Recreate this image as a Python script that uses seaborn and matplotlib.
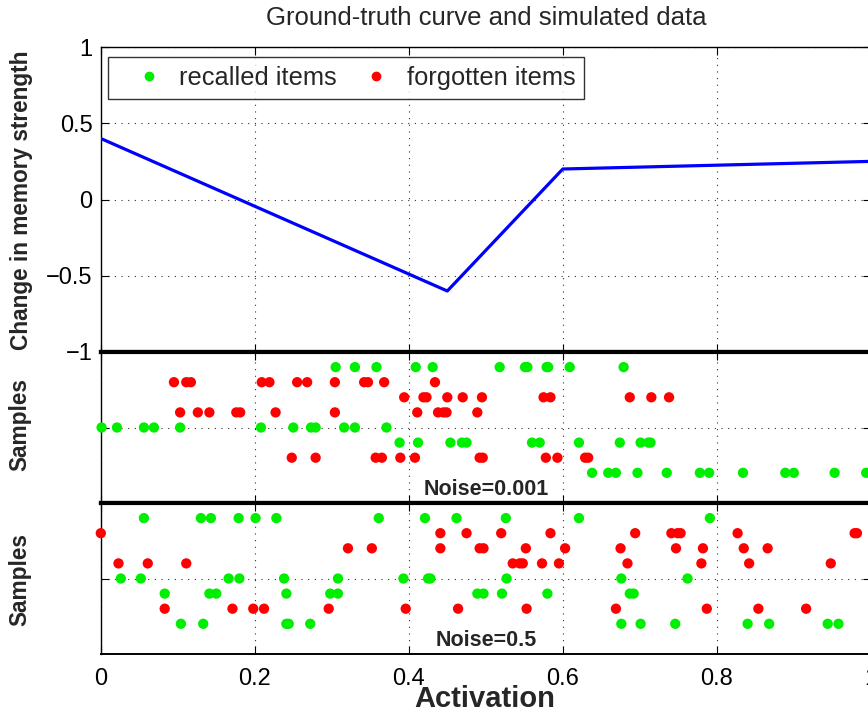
import matplotlib
matplotlib.use("Agg")
import matplotlib.pyplot as plt
from matplotlib.lines import Line2D
import pandas as pd
import seaborn as sns

sns.set_theme(style="white")
plt.rcParams['font.family'] = ['Liberation Sans', 'DejaVu Sans']

# Ground-truth curve: piecewise linear change in memory strength
curve_x = [0.0, 0.45, 0.6, 1.0]
curve_y = [0.4, -0.6, 0.2, 0.25]

# Simulated samples with noise = 0.001 (activation of each item, by row level)
low_recalled_r8 = [0.305, 0.330, 0.358, 0.409, 0.431, 0.518, 0.551, 0.554, 0.579, 0.581, 0.609, 0.679]
low_recalled_r4 = [0.001, 0.021, 0.056, 0.069, 0.103, 0.208, 0.250, 0.273, 0.279, 0.316, 0.330, 0.371]
low_recalled_r3 = [0.388, 0.412, 0.454, 0.469, 0.475, 0.560, 0.570, 0.621, 0.674, 0.701, 0.711, 0.714]
low_recalled_r1 = [0.638, 0.659, 0.669, 0.697, 0.735, 0.778, 0.790, 0.834, 0.889, 0.900, 0.953, 0.994]
low_forgotten_r7 = [0.095, 0.111, 0.117, 0.209, 0.219, 0.255, 0.268, 0.304, 0.342, 0.347, 0.368, 0.434]
low_forgotten_r6 = [0.394, 0.419, 0.423, 0.450, 0.470, 0.495, 0.575, 0.584, 0.687, 0.715, 0.738]
low_forgotten_r5 = [0.103, 0.126, 0.141, 0.176, 0.181, 0.227, 0.304, 0.411, 0.438, 0.445, 0.449, 0.489]
low_forgotten_r2 = [0.248, 0.279, 0.357, 0.365, 0.389, 0.408, 0.492, 0.496, 0.578, 0.593, 0.629, 0.633]

# Simulated samples with noise = 0.5
high_recalled_r8 = [0.056, 0.130, 0.143, 0.179, 0.201, 0.228, 0.361, 0.421, 0.462, 0.526, 0.621, 0.791]
high_recalled_r4 = [0.026, 0.052, 0.166, 0.180, 0.238, 0.308, 0.393, 0.425, 0.428, 0.527, 0.676, 0.762]
high_recalled_r3 = [0.083, 0.141, 0.150, 0.241, 0.298, 0.308, 0.489, 0.497, 0.521, 0.580, 0.687, 0.692]
high_recalled_r1 = [0.104, 0.133, 0.241, 0.244, 0.272, 0.676, 0.701, 0.746, 0.840, 0.868, 0.944, 0.958]
high_forgotten_r7 = [0.000, 0.441, 0.475, 0.520, 0.584, 0.694, 0.741, 0.749, 0.753, 0.827, 0.979, 0.982]
high_forgotten_r6 = [0.321, 0.352, 0.441, 0.492, 0.497, 0.552, 0.603, 0.675, 0.747, 0.782, 0.835, 0.866]
high_forgotten_r5 = [0.023, 0.061, 0.111, 0.535, 0.544, 0.548, 0.573, 0.595, 0.684, 0.780, 0.842, 0.948]
high_forgotten_r2 = [0.083, 0.171, 0.198, 0.212, 0.296, 0.396, 0.464, 0.553, 0.669, 0.787, 0.854, 0.916]

x_ticks = [0, 0.2, 0.4, 0.6, 0.8, 1]
x_tick_labels = ["0", "0.2", "0.4", "0.6", "0.8", "1"]
y_ticks = [-1, -0.5, 0, 0.5, 1]
y_tick_labels = ["\u22121", "\u22120.5", "0", "0.5", "1"]

GREEN = "#00ee00"
RED = "#ff0000"
palette = {"recalled items": GREEN, "forgotten items": RED}


def samples_frame(rows):
    recs = []
    for level, outcome, xs in rows:
        for v in xs:
            recs.append({"activation": v, "level": level, "outcome": outcome})
    return pd.DataFrame(recs)


low_df = samples_frame([
    (8, "recalled items", low_recalled_r8), (4, "recalled items", low_recalled_r4),
    (3, "recalled items", low_recalled_r3), (1, "recalled items", low_recalled_r1),
    (7, "forgotten items", low_forgotten_r7), (6, "forgotten items", low_forgotten_r6),
    (5, "forgotten items", low_forgotten_r5), (2, "forgotten items", low_forgotten_r2),
])
high_df = samples_frame([
    (8, "recalled items", high_recalled_r8), (4, "recalled items", high_recalled_r4),
    (3, "recalled items", high_recalled_r3), (1, "recalled items", high_recalled_r1),
    (7, "forgotten items", high_forgotten_r7), (6, "forgotten items", high_forgotten_r6),
    (5, "forgotten items", high_forgotten_r5), (2, "forgotten items", high_forgotten_r2),
])
curve_df = pd.DataFrame({"activation": curve_x, "change": curve_y})

W, H = 868, 719
fig = plt.figure(figsize=(W / 100, H / 100), dpi=100)
left = 100.8 / W
width = 770 / W


def fy(px):
    return 1 - px / H


ax_top = fig.add_axes([left, fy(352), width, (352 - 47) / H])
ax_mid = fig.add_axes([left, fy(503), width, (503 - 352) / H])
ax_bot = fig.add_axes([left, fy(654), width, (654 - 503) / H])

grid_kw = dict(color="#333333", linestyle=(0, (1, 5)), linewidth=0.8)
TICK_FS = 17

# --- top panel: ground-truth curve ---
sns.lineplot(data=curve_df, x="activation", y="change", ax=ax_top,
             color="#0000ff", linewidth=2.3, zorder=3)
ax_top.set_xlim(0, 1)
ax_top.set_ylim(-1, 1)
ax_top.set_xticks(x_ticks)
ax_top.set_yticks(y_ticks)
ax_top.set_yticklabels(y_tick_labels, fontsize=TICK_FS)
ax_top.tick_params(axis="x", labelbottom=False, top=True, bottom=True)
ax_top.grid(True, **grid_kw)
ax_top.set_xlabel("")
ax_top.set_ylabel("")

handles = [
    Line2D([], [], linestyle="none", marker="o", markersize=6, color=GREEN, label="recalled items"),
    Line2D([], [], linestyle="none", marker="o", markersize=6, color=RED, label="forgotten items"),
]
leg = ax_top.legend(handles=handles, loc="upper left", bbox_to_anchor=(0.0094, 0.967),
                    borderaxespad=0, ncol=2, fontsize=18.3, frameon=True, fancybox=False,
                    edgecolor="black", handlelength=2.5, handletextpad=-0.05,
                    columnspacing=0.3, borderpad=0.35)
leg.get_frame().set_linewidth(1.0)

# --- sample panels ---
for ax, df, label in [(ax_mid, low_df, "Noise=0.001"), (ax_bot, high_df, "Noise=0.5")]:
    sns.scatterplot(data=df, x="activation", y="level", hue="outcome", palette=palette,
                    s=55, linewidth=0, legend=False, ax=ax, zorder=3, clip_on=False)
    ax.set_xlim(0, 1)
    ax.set_ylim(-1, 9)
    ax.set_xticks(x_ticks)
    ax.set_yticks([4])
    ax.set_yticklabels([])
    ax.grid(True, **grid_kw)
    ax.set_xlabel("")
    ax.set_ylabel("")
    ax.text(0.5, 0.09, label, transform=ax.transAxes, ha="center", va="center",
            fontsize=15.5, fontweight="bold")

ax_mid.tick_params(axis="x", labelbottom=False)
ax_bot.set_xticklabels(x_tick_labels, fontsize=TICK_FS)

for ax in (ax_top, ax_mid, ax_bot):
    ax.tick_params(direction="in", length=6, width=0.8, colors="black",
                   left=True, right=True, top=True, bottom=True, pad=6)
    for sp in ax.spines.values():
        sp.set_color("black")
        sp.set_linewidth(1.0)
ax_bot.tick_params(axis="x", pad=10)

# heavy separators between the stacked panels
ax_top.spines["bottom"].set_linewidth(3)
ax_mid.spines["top"].set_linewidth(3)
ax_mid.spines["bottom"].set_linewidth(3)
ax_bot.spines["top"].set_linewidth(3)
ax_bot.spines["bottom"].set_linewidth(1.4)

fig.text(486 / W, fy(18), "Ground-truth curve and simulated data", ha="center", va="center",
         fontsize=18.5)
fig.text(22 / W, fy(200), "Change in memory strength", rotation=90, ha="center", va="center",
         fontsize=16.3, fontweight="bold")
fig.text(20 / W, fy(425), "Samples", rotation=90, ha="center", va="center",
         fontsize=16.3, fontweight="bold")
fig.text(20 / W, fy(580), "Samples", rotation=90, ha="center", va="center",
         fontsize=16.3, fontweight="bold")
fig.text(485 / W, fy(699), "Activation", ha="center", va="center",
         fontsize=21, fontweight="bold")

fig.savefig("out.png", dpi=100)
